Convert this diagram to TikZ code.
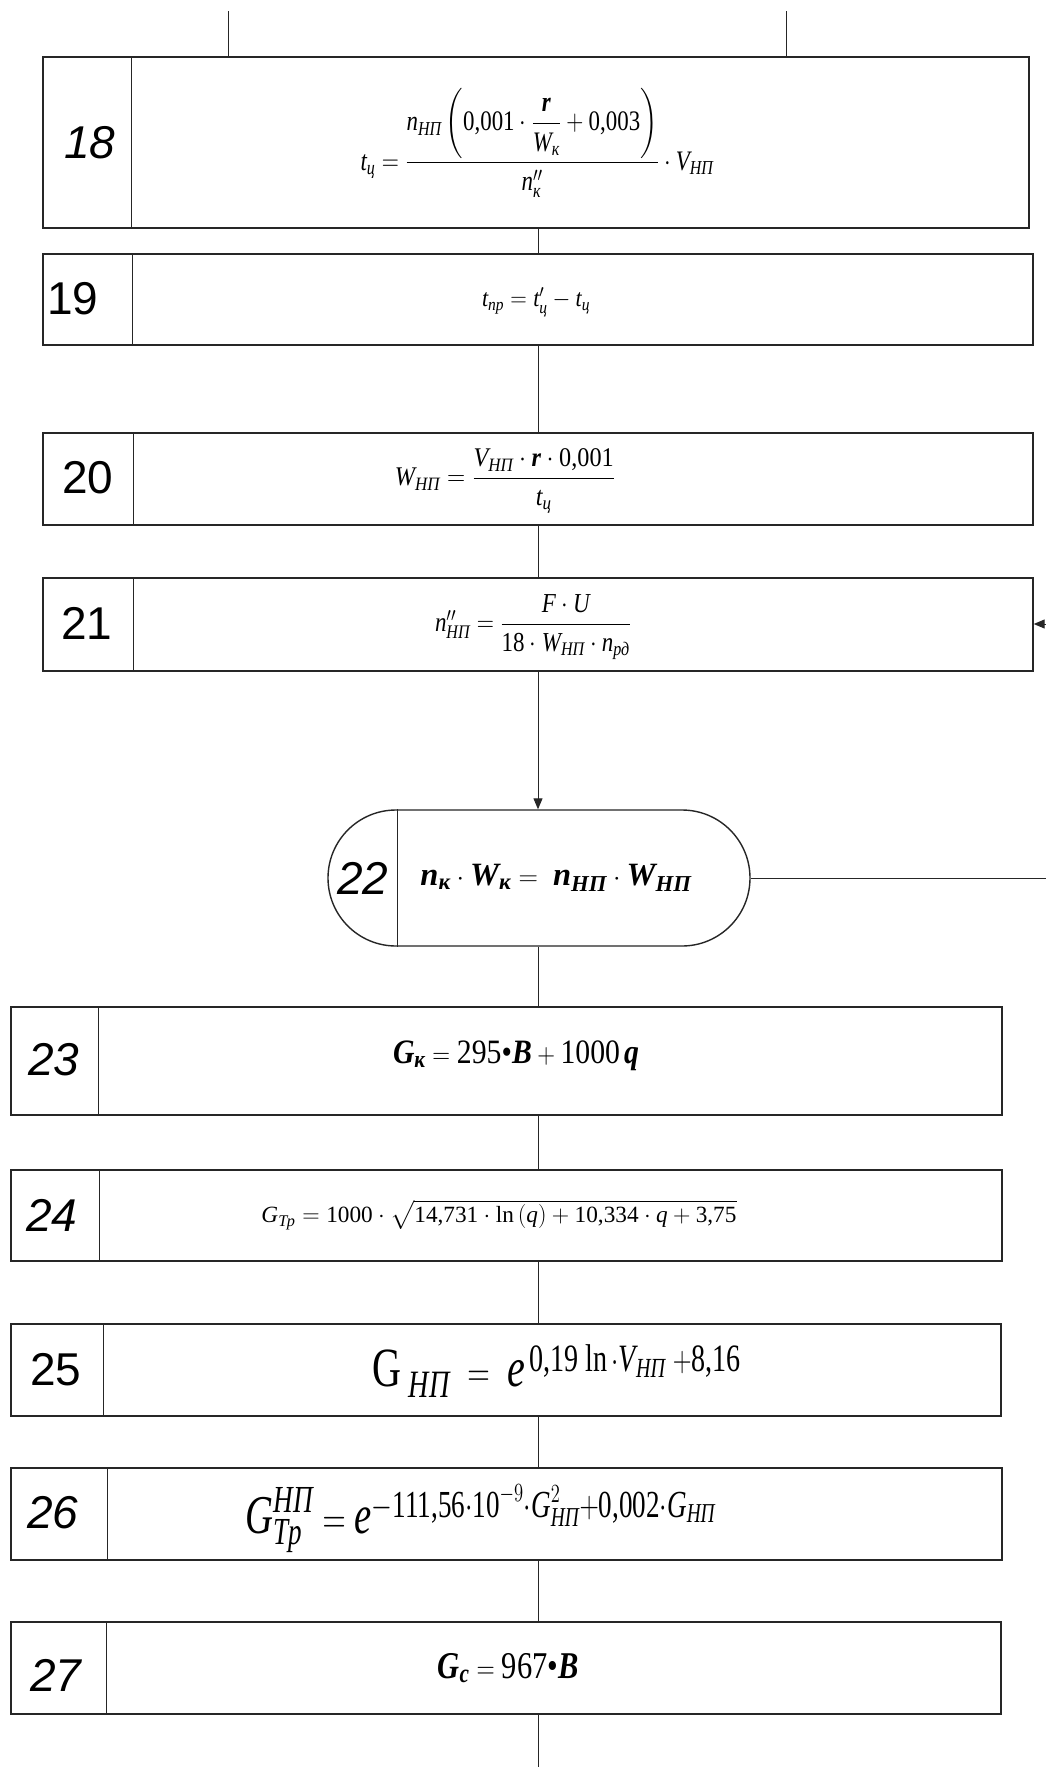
\documentclass[tikz,border=0pt]{standalone}
\usepackage{amsmath}
\usepackage{graphicx}
\usepackage{fontspec}
\setmainfont{Liberation Serif}
\newfontfamily\lblfont{Liberation Sans}
\usetikzlibrary{arrows.meta}
\newcommand\ii[1]{\text{\itshape #1}}
\newcommand\bi[1]{\text{\bfseries\itshape #1}}
\newcommand\nm[1]{\text{#1}}
\tikzset{
 blk/.style={draw=black!85, line width=1.4pt, inner sep=0pt},
 divl/.style={draw=black!85, line width=1pt},
 conn/.style={draw=black!85, line width=1pt},
 arr/.style={conn, -{Triangle[length=11pt,width=9pt]}},
 lbl/.style={font=\lblfont\fontsize{46}{50}\selectfont, inner sep=0pt},
 lbli/.style={font=\lblfont\itshape\fontsize{46}{50}\selectfont, inner sep=0pt},
 frm/.style={inner sep=0pt},
}
\begin{document}
\begin{tikzpicture}[x=1pt,y=-1pt]
\useasboundingbox (0,0) rectangle (1046,1767);
\fill[white] (0,0) rectangle (1046,1767);
\coordinate (sp) at (538,0);
\coordinate (t1) at (228,11);
\coordinate (t2) at (786,11);
\coordinate (r21) at (1046,624);
\coordinate (r22) at (1046,878);
\coordinate (bot) at (538,1767);

% boxes
\node[blk, minimum width=986pt, minimum height=171pt] (b18) at (536,142.5) {};
\node[blk, minimum width=990pt, minimum height=91pt] (b19) at (538,299.5) {};
\node[blk, minimum width=990pt, minimum height=92pt] (b20) at (538,479) {};
\node[blk, minimum width=990pt, minimum height=93pt] (b21) at (538,624.5) {};
\node[blk, rounded corners=68pt, minimum width=422pt, minimum height=136pt] (b22) at (539,878) {};
\node[blk, minimum width=991pt, minimum height=108pt] (b23) at (506.5,1061) {};
\node[blk, minimum width=991pt, minimum height=91pt] (b24) at (506.5,1215.5) {};
\node[blk, minimum width=990pt, minimum height=92pt] (b25) at (506,1370) {};
\node[blk, minimum width=991pt, minimum height=92pt] (b26) at (506.5,1514) {};
\node[blk, minimum width=990pt, minimum height=92pt] (b27) at (506,1668) {};

% dividers
\draw[divl] ([xshift=89pt]b18.north west) -- ([xshift=89pt]b18.south west);
\draw[divl] ([xshift=90pt]b19.north west) -- ([xshift=90pt]b19.south west);
\draw[divl] ([xshift=91pt]b20.north west) -- ([xshift=91pt]b20.south west);
\draw[divl] ([xshift=91pt]b21.north west) -- ([xshift=91pt]b21.south west);
\draw[divl] ([xshift=70pt]b22.north west) -- ([xshift=70pt]b22.south west);
\draw[divl] ([xshift=88pt]b23.north west) -- ([xshift=88pt]b23.south west);
\draw[divl] ([xshift=89pt]b24.north west) -- ([xshift=89pt]b24.south west);
\draw[divl] ([xshift=93pt]b25.north west) -- ([xshift=93pt]b25.south west);
\draw[divl] ([xshift=97pt]b26.north west) -- ([xshift=97pt]b26.south west);
\draw[divl] ([xshift=96pt]b27.north west) -- ([xshift=96pt]b27.south west);

% connectors
\draw[conn] (t1) -- (t1 |- b18.north);
\draw[conn] (t2) -- (t2 |- b18.north);
\draw[conn] (b18.south -| sp) -- (b19.north -| sp);
\draw[conn] (b19.south -| sp) -- (b20.north -| sp);
\draw[conn] (b20.south -| sp) -- (b21.north -| sp);
\draw[arr] (b21.south -| sp) -- (b22.north -| sp);
\draw[arr] (r21) -- (r21 -| b21.east);
\draw[conn] (b22.east) -- (r22);
\draw[conn] (b22.south -| sp) -- (b23.north -| sp);
\draw[conn] (b23.south -| sp) -- (b24.north -| sp);
\draw[conn] (b24.south -| sp) -- (b25.north -| sp);
\draw[conn] (b25.south -| sp) -- (b26.north -| sp);
\draw[conn] (b26.south -| sp) -- (b27.north -| sp);
\draw[conn] (b27.south -| sp) -- (bot);

% numbers
\node[lbli] (n18) at (90,143) {18};
\node[lbl] (n19) at (73,299) {19};
\node[lbl] (n20) at (88,478) {20};
\node[lbl] (n21) at (87,623) {21};
\node[lbli] (n22) at (363,878) {22};
\node[lbli] (n23) at (54,1060) {23};
\node[lbli] (n24) at (52,1215) {24};
\node[lbl] (n25) at (56,1370) {25};
\node[lbli] (n26) at (53,1513) {26};
\node[lbli] (n27) at (56,1675) {27};

% formulas
\node[frm] (f18) at (537,143) {\resizebox*{353pt}{109pt}{\fontsize{24}{28}\selectfont
 $\ii{t}_{\ii{ц}}=\dfrac{\ii{n}_{\ii{НП}}\left(\nm{0,001}\cdot\dfrac{\bi{r}}{\ii{W}_{\ii{к}}}+\nm{0,003}\right)}{\ii{n}''_{\ii{к}}}\cdot\ii{V}_{\ii{НП}}$}};
\node[frm] (f19) at (536,302) {\resizebox*{108pt}{29pt}{\fontsize{24}{28}\selectfont
 $\ii{t}_{\ii{пр}}=\ii{t}'_{\ii{ц}}-\ii{t}_{\ii{ц}}$}};
\node[frm] (f20) at (505,481) {\resizebox*{220pt}{64pt}{\fontsize{24}{28}\selectfont
 $\ii{W}_{\ii{НП}}=\dfrac{\ii{V}_{\ii{НП}}\cdot\bi{r}\cdot\nm{0,001}}{\ii{t}_{\ii{ц}}}$}};
\node[frm] (f21) at (533,627) {\resizebox*{196pt}{65pt}{\fontsize{24}{28}\selectfont
 $\ii{n}''_{\ii{НП}}=\dfrac{\ii{F}\cdot\ii{U}}{\nm{18}\cdot\ii{W}_{\ii{НП}}\cdot\ii{n}_{\ii{рд}}}$}};
\node[frm] (f22) at (556,878) {\resizebox{271pt}{!}{\fontsize{30}{34}\selectfont
 $\bi{n}_{\bi{к}}\cdot\bi{W}_{\bi{к}}=\;\bi{n}_{\bi{НП}}\cdot\bi{W}_{\bi{НП}}$}};
\node[frm] (f23) at (516,1056) {\resizebox*{246pt}{30pt}{\fontsize{30}{34}\selectfont
 $\bi{G}_{\bi{к}}=\nm{295\textbullet}\bi{B}+\nm{1000}\,\bi{q}$}};
\node[frm] (f24) at (499,1215) {\resizebox{475pt}{!}{\fontsize{24}{28}\selectfont
 $\ii{G}_{\ii{Тр}}=\nm{1000}\cdot\sqrt{\nm{14,731}\cdot\ln\left(\ii{q}\right)+\nm{10,334}\cdot\ii{q}+\nm{3,75}}$}};
\node[frm] (f25) at (557,1371) {\resizebox*{369pt}{53pt}{\fontsize{32}{36}\selectfont
 $\nm{G}_{\;\ii{НП}}\;=\;\ii{e}^{\,\nm{0,19 ln}\,\cdot\ii{V}_{\ii{НП}}\;+\nm{8,16}}$}};
\node[frm] (f26) at (481,1519) {\resizebox*{470pt}{68pt}{\fontsize{30}{34}\selectfont
 $\ii{G}^{\ii{НП}}_{\ii{Тр}}=\ii{e}^{-\nm{111,56}\cdot\nm{10}^{-9}\cdot\ii{G}^{2}_{\ii{НП}}+\nm{0,002}\cdot\ii{G}_{\ii{НП}}}$}};
\node[frm] (f27) at (508,1668) {\resizebox*{141pt}{30pt}{\fontsize{30}{34}\selectfont
 $\bi{G}_{\bi{c}}=\nm{967\textbullet}\bi{B}$}};
\end{tikzpicture}
\end{document}
